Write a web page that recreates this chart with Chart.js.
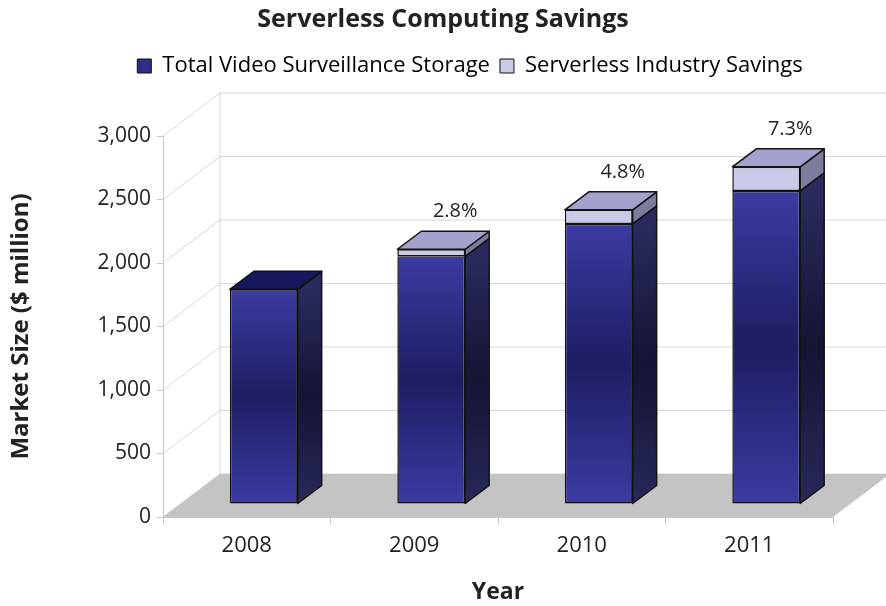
<!DOCTYPE html>
<html>
<head>
<meta charset="utf-8">
<script src="https://cdn.jsdelivr.net/npm/chart.js@4/dist/chart.umd.min.js"></script>
<style>
  html, body { margin: 0; padding: 0; background: #fff; }
  #chart { display: block; }
</style>
</head>
<body>
<canvas id="chart" width="886" height="606"></canvas>
<script>
// chart data
const years = ['2008', '2009', '2010', '2011'];
const storage = [1690, 1950, 2205, 2465];
const savings = [0, 56, 111, 190];
const savingsPct = ['', '2.8%', '4.8%', '7.3%'];
const yTicks = [0, 500, 1000, 1500, 2000, 2500, 3000];

const FONT = '"Open Sans", Lato, sans-serif';
const WALL_DX = 57, WALL_DY = -43;   // depth of the back wall
const BAR_DX = 17, BAR_DY = -13;     // bars sit a bit behind the front plane
const DEPTH_DX = 24, DEPTH_DY = -18; // depth of each bar

// vertical gradient for a bar face between two pixel rows
function faceGradient(c, top, bot, stops) {
    const g = c.createLinearGradient(0, top, 0, bot);
    stops.forEach(function(s) { g.addColorStop(s[0], s[1]); });
    return g;
}

function storageFill(context) {
    const chart = context.chart;
    if (!chart.chartArea || context.type !== 'data') return '#2e2e8a';
    const y = chart.scales.y;
    const top = y.getPixelForValue(storage[context.dataIndex]);
    const bot = y.getPixelForValue(0);
    return faceGradient(chart.ctx, top, bot, [[0, '#3b3ba2'], [0.5, '#1d1d62'], [1, '#3b3ba2']]);
}

// leave a gap under the legend and nudge it right
const legendGap = {
    id: 'legendGap',
    beforeInit(chart) {
        const fit = chart.legend.fit;
        chart.legend.fit = function() {
            fit.bind(chart.legend)();
            this.height += 49;
        };
    },
    afterLayout(chart) {
        chart.legend.left += 27;
        chart.legend.right += 27;
    }
};

// draws walls, floor, and the 3d faces of the bars
const threeD = {
    id: 'threeD',
    beforeDatasetsDraw(chart) {
        const c = chart.ctx;
        const y = chart.scales.y;
        const left = chart.chartArea.left, right = chart.chartArea.right;
        const y0 = y.getPixelForValue(0);

        c.save();
        c.strokeStyle = '#d6d6d6';
        c.lineWidth = 1;
        yTicks.forEach(function(v) {
            const py = y.getPixelForValue(v);
            c.beginPath();
            c.moveTo(left, py);
            c.lineTo(left + WALL_DX, py + WALL_DY);
            c.lineTo(chart.width, py + WALL_DY);
            c.stroke();
        });
        c.beginPath();
        c.moveTo(left + WALL_DX, y.getPixelForValue(3000) + WALL_DY);
        c.lineTo(left + WALL_DX, y0 + WALL_DY);
        c.stroke();

        // floor
        c.fillStyle = '#c4c4c4';
        c.beginPath();
        c.moveTo(left, y0);
        c.lineTo(right, y0);
        c.lineTo(right + WALL_DX, y0 + WALL_DY);
        c.lineTo(left + WALL_DX, y0 + WALL_DY);
        c.closePath();
        c.fill();
        c.restore();

        c.save();
        c.translate(BAR_DX, BAR_DY);
    },
    afterDatasetsDraw(chart) {
        const c = chart.ctx;
        const metaS = chart.getDatasetMeta(0), metaV = chart.getDatasetMeta(1);
        c.lineWidth = 1.5;
        c.strokeStyle = '#111';
        c.lineJoin = 'round';

        function side(bar, fill) {
            const r = bar.x + bar.width / 2;
            const top = Math.min(bar.y, bar.base), bot = Math.max(bar.y, bar.base);
            c.fillStyle = fill;
            c.beginPath();
            c.moveTo(r, bot);
            c.lineTo(r + DEPTH_DX, bot + DEPTH_DY);
            c.lineTo(r + DEPTH_DX, top + DEPTH_DY);
            c.lineTo(r, top);
            c.closePath();
            c.fill();
            c.stroke();
        }
        function lid(bar, fill) {
            const l = bar.x - bar.width / 2, r = bar.x + bar.width / 2;
            const top = Math.min(bar.y, bar.base);
            c.fillStyle = fill;
            c.beginPath();
            c.moveTo(l, top);
            c.lineTo(l + DEPTH_DX, top + DEPTH_DY);
            c.lineTo(r + DEPTH_DX, top + DEPTH_DY);
            c.lineTo(r, top);
            c.closePath();
            c.fill();
            c.stroke();
        }

        years.forEach(function(yr, i) {
            const s = metaS.data[i], v = metaV.data[i];
            const sTop = Math.min(s.y, s.base);
            side(s, faceGradient(c, sTop, s.base, [[0, '#2a2a5e'], [0.5, '#141434'], [1, '#28285a']]));
            if (savings[i] > 0) {
                side(v, '#7c7c9e');
                lid(v, '#a2a2cc');
            } else {
                lid(s, '#17175e');
            }
            if (savingsPct[i]) {
                const top = Math.min(v.y, v.base, s.y);
                c.fillStyle = '#222';
                c.font = '20px ' + FONT;
                c.textAlign = 'center';
                c.textBaseline = 'middle';
                c.fillText(savingsPct[i], s.x + DEPTH_DX, top + DEPTH_DY - 20);
            }
        });
        c.restore();
    }
};

new Chart(document.getElementById('chart'), {
    type: 'bar',
    data: {
        labels: years,
        datasets: [
            {
                label: 'Total Video Surveillance Storage',
                data: storage,
                backgroundColor: storageFill,
                borderColor: '#111',
                borderWidth: 1.5,
                borderSkipped: false
            },
            {
                label: 'Serverless Industry Savings',
                data: savings,
                backgroundColor: '#c9c9e8',
                borderColor: '#111',
                borderWidth: 1.5,
                borderSkipped: false
            }
        ]
    },
    options: {
        responsive: false,
        animation: false,
        barPercentage: 0.5,
        categoryPercentage: 0.81,
        layout: { padding: { left: 0, right: 0, top: 0, bottom: 0 } },
        plugins: {
            tooltip: { enabled: false },
            title: {
                display: true,
                text: 'Serverless Computing Savings',
                color: '#222',
                font: { family: FONT, size: 25, weight: 'bold' },
                padding: { top: 5, bottom: 10 }
            },
            legend: {
                display: true,
                labels: {
                    color: '#222',
                    font: { family: FONT, size: 22 },
                    boxWidth: 14,
                    boxHeight: 14,
                    padding: 10,
                    generateLabels: function() {
                        return [
                            { text: 'Total Video Surveillance Storage', fillStyle: '#2e2e8a', strokeStyle: '#111', lineWidth: 1, datasetIndex: 0 },
                            { text: 'Serverless Industry Savings', fillStyle: '#c9c9e8', strokeStyle: '#111', lineWidth: 1, datasetIndex: 1 }
                        ];
                    }
                }
            }
        },
        scales: {
            x: {
                stacked: true,
                afterFit: function(scale) { scale.height = 89; },
                grid: { offset: true, drawOnChartArea: false, color: '#c8c8c8', tickLength: 8 },
                border: { color: '#c8c8c8' },
                ticks: { color: '#222', font: { family: FONT, size: 22 }, padding: 8 },
                title: {
                    display: true,
                    text: 'Year',
                    color: '#222',
                    font: { family: FONT, size: 23, weight: 'bold' },
                    padding: { top: 14, bottom: 0 }
                }
            },
            y: {
                stacked: true,
                min: 0,
                max: 3000,
                afterFit: function(scale) { scale.width = 163; },
                grid: { drawOnChartArea: false, color: '#c8c8c8', tickLength: 6 },
                border: { color: '#c8c8c8' },
                ticks: {
                    stepSize: 500,
                    color: '#222',
                    font: { family: FONT, size: 21 },
                    padding: 6,
                    callback: function(v) { return v.toLocaleString('en-US'); }
                },
                title: {
                    display: true,
                    text: 'Market Size ($ million)',
                    color: '#222',
                    font: { family: FONT, size: 24, weight: 'bold' },
                    padding: { top: 7, bottom: 10 }
                }
            },
            // empty strip on the right so the plot ends where the reference does
            spacer: {
                position: 'right',
                display: true,
                afterFit: function(scale) { scale.width = 53; },
                grid: { display: false },
                border: { display: false },
                ticks: { display: false }
            }
        }
    },
    plugins: [legendGap, threeD]
});
</script>
</body>
</html>
